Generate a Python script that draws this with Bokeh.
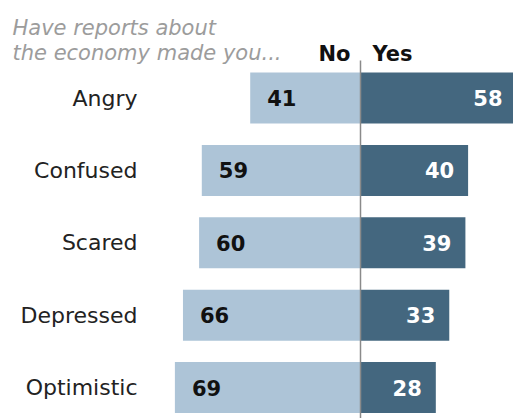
from bokeh.plotting import figure
from bokeh.models import Range1d, Label, ColumnDataSource
from bokeh.core.properties import value
from bokeh.embed import file_html
from bokeh.resources import INLINE

categories = ["Angry", "Confused", "Scared", "Depressed", "Optimistic"]
no_values = [41, 59, 60, 66, 69]
yes_values = [58, 40, 39, 33, 28]
title_lines = ["Have reports about", "the economy made you..."]
header_no = "No"
header_yes = "Yes"

W, H = 513, 418
SCALE = 2.69          # px per percentage point
CENTER = 360          # px of the zero line inside the figure
ROW0 = 97.5           # px of first row centre
PITCH = 72.4          # px between rows

x_start = -CENTER / SCALE
x_end = (W - CENTER) / SCALE
y_top = -ROW0 / PITCH
y_bottom = (H - ROW0) / PITCH

idx = list(range(len(categories)))
src = ColumnDataSource(dict(
    y=idx,
    cat=categories,
    no=no_values,
    yes=yes_values,
    no_left=[-v for v in no_values],
    no_txt=[str(v) for v in no_values],
    yes_txt=[str(v) for v in yes_values],
    zero=[0] * len(idx),
    lab_x=[x_start] * len(idx),
))

p = figure(width=W, height=H, output_backend="svg", toolbar_location=None,
           x_range=Range1d(x_start, x_end), y_range=Range1d(y_bottom, y_top),
           min_border=0, outline_line_color=None)
p.axis.visible = False
p.grid.visible = False
p.background_fill_color = "white"
p.border_fill_color = "white"

FONT = value("DejaVu Sans")
LIGHT = "#adc4d7"
DARK = "#44677f"

p.hbar(y="y", left="no_left", right="zero", height=0.705, fill_color=LIGHT,
       line_color=None, source=src)
p.hbar(y="y", left="zero", right="yes", height=0.705, fill_color=DARK,
       line_color=None, source=src)

# zero line
p.segment(x0=0, x1=0, y0=(60 - ROW0) / PITCH, y1=y_bottom, line_color="#8a8a8a",
          line_width=1.5)

# row labels
p.text(x="lab_x", y="y", text="cat", x_offset=137, text_align="right",
       text_baseline="middle", text_font=FONT, text_font_size="22px",
       text_color="#222222", source=src)

# value labels
p.text(x="no_left", y="y", text="no_txt", x_offset=17, text_align="left",
       text_baseline="middle", text_font=FONT, text_font_size="21px",
       text_font_style="bold", text_color="#111111", source=src)
p.text(x="yes", y="y", text="yes_txt", x_offset=-14, text_align="right",
       text_baseline="middle", text_font=FONT, text_font_size="21px",
       text_font_style="bold", text_color="white", source=src)

# title
for i, line in enumerate(title_lines):
    p.add_layout(Label(x=12, y=H - 27 - 25 * i, x_units="screen", y_units="screen",
                       text=line, text_font="DejaVu Sans", text_font_size="21px",
                       text_font_style="italic", text_color="#9c9c9c",
                       text_baseline="alphabetic"))

# headers
p.add_layout(Label(x=CENTER - 10, y=H - 53, x_units="screen", y_units="screen",
                   text=header_no, text_font="DejaVu Sans", text_font_size="21px",
                   text_font_style="bold", text_color="#111111",
                   text_align="right", text_baseline="alphabetic"))
p.add_layout(Label(x=CENTER + 12, y=H - 53, x_units="screen", y_units="screen",
                   text=header_yes, text_font="DejaVu Sans", text_font_size="21px",
                   text_font_style="bold", text_color="#111111",
                   text_align="left", text_baseline="alphabetic"))

open("out.html", "w").write(file_html(p, INLINE))
